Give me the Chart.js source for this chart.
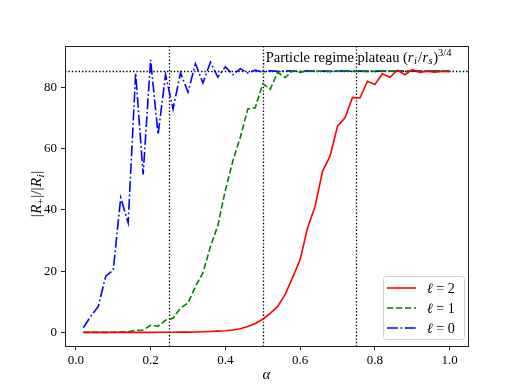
<!DOCTYPE html>
<html>
<head>
<meta charset="utf-8">
<script src="https://cdn.jsdelivr.net/npm/chart.js@4"></script>
<style>
html,body{margin:0;padding:0;background:#fff;}
#wrap{width:520px;height:390px;position:relative;}
</style>
</head>
<body>
<div id="wrap"><canvas id="c"></canvas></div>
<script>
// ---- data ----
const alpha = [0.02,0.04,0.06,0.08,0.10,0.12,0.14,0.16,0.18,0.20,
               0.22,0.24,0.26,0.28,0.30,0.32,0.34,0.36,0.38,0.40,
               0.42,0.44,0.46,0.48,0.50,0.52,0.54,0.56,0.58,0.60,
               0.62,0.64,0.66,0.68,0.70,0.72,0.74,0.76,0.78,0.80,
               0.82,0.84,0.86,0.88,0.90,0.92,0.94,0.96,0.98,1.00];
const ell2 = [0.0,0.0,0.0,0.0,0.0,0.0,0.0,0.0,0.0,0.0,
              0.05,0.05,0.05,0.1,0.1,0.15,0.2,0.3,0.4,0.55,
              0.8,1.2,1.9,2.9,4.3,6.2,8.5,12.4,18.0,23.8,
              34.2,41.2,52.7,57.6,67.4,70.1,76.8,76.6,82.1,81.0,
              84.5,83.4,85.7,84.2,85.9,85.0,85.4,85.0,85.4,85.2];
const ell1 = [0.0,0.0,0.0,0.0,0.05,0.1,0.2,0.7,0.8,2.3,
              2.0,4.0,4.6,8.0,9.6,15.0,19.5,28.0,35.0,46.5,
              56.0,63.8,73.0,73.4,81.3,79.5,85.0,83.3,85.5,85.0,
              85.6,85.2,85.5,85.3,85.4,85.5,85.3,85.4,85.4,85.3,
              85.4,85.4,85.5,85.4,85.4,85.3,85.4,85.4,85.4,85.4];
const ell0 = [1.5,5.3,8.5,18.4,20.3,44.0,35.8,84.8,51.6,89.1,
              64.7,84.2,73.0,84.8,78.5,87.8,81.5,88.3,83.4,86.8,
              84.2,86.2,84.8,85.7,85.1,85.5,85.3,85.5,85.4,85.3,
              85.5,85.4,85.4,85.3,85.5,85.4,85.4,85.4,85.3,85.4,
              85.4,85.4,85.4,85.4,85.4,85.4,85.4,85.4,85.4,85.4];
const seriesLabels = ['\u2113 = 2','\u2113 = 1','\u2113 = 0'];
const xTicks = [0.0,0.2,0.4,0.6,0.8,1.0];
const yTicks = [0,20,40,60,80];
const vLines = [0.25,0.5,0.75];
const plateau = 85.4;
const annotPos = [0.508, 88.5];

// ---- styles ----
const SERIF = "'Liberation Serif','DejaVu Serif',serif";
Chart.defaults.font.family = SERIF;
Chart.defaults.font.size = 13;
Chart.defaults.color = '#000';

const colors = ['#ff0000','#008000','#0000ff'];
const dashes = [[], [6.3,2.7], [10.8,2.7,1.7,2.7]];
const seriesData = [ell2, ell1, ell0];

const datasets = seriesData.map((arr,i)=>({
  label: seriesLabels[i],
  data: alpha.map((a,j)=>({x:a, y:arr[j]})),
  borderColor: colors[i],
  borderWidth: 1.6,
  borderDash: dashes[i],
  pointRadius: 0,
  tension: 0,
  fill: false
}));

function drawSegs(ctx, x, y, segs){
  let cx = x;
  for(const s of segs){
    ctx.font = s.f;
    ctx.fillText(s.t, cx, y + (s.dy||0));
    cx += ctx.measureText(s.t).width + (s.sp||0);
  }
  return cx - x;
}
function segsWidth(ctx, segs){
  let w=0;
  for(const s of segs){ ctx.font=s.f; w+=ctx.measureText(s.t).width+(s.sp||0);}
  return w;
}

const overlay = {
  id:'overlay',
  beforeDatasetsDraw(chart){
    const {ctx, chartArea:a, scales:{x,y}} = chart;
    ctx.save();
    ctx.beginPath(); ctx.rect(a.left,a.top,a.right-a.left,a.bottom-a.top); ctx.clip();
    ctx.strokeStyle='#000'; ctx.lineWidth=1.3; ctx.setLineDash([1.4,2.0]);
    for(const v of vLines){
      const px = Math.round(x.getPixelForValue(v))+0.5;
      ctx.beginPath(); ctx.moveTo(px,a.top); ctx.lineTo(px,a.bottom); ctx.stroke();
    }
    const py = Math.round(y.getPixelForValue(plateau))+0.5;
    ctx.beginPath(); ctx.moveTo(a.left,py); ctx.lineTo(a.right,py); ctx.stroke();
    ctx.restore();
  },
  afterDraw(chart){
    const {ctx, chartArea:a, scales:{x,y}} = chart;
    ctx.save();
    // frame
    ctx.strokeStyle='#222'; ctx.lineWidth=1; ctx.setLineDash([]);
    ctx.strokeRect(Math.round(a.left)+0.5, Math.round(a.top)+0.5, Math.round(a.right-a.left), Math.round(a.bottom-a.top));
    ctx.fillStyle='#000';
    ctx.textBaseline='alphabetic'; ctx.textAlign='left';
    // annotation
    const R='14.5px '+SERIF, I='italic 14.5px '+SERIF, Is='italic 10.5px '+SERIF, S='10.5px '+SERIF;
    drawSegs(ctx, x.getPixelForValue(annotPos[0]), y.getPixelForValue(annotPos[1]), [
      {t:'Particle regime plateau (', f:R},
      {t:'r', f:I, sp:0.5},{t:'i', f:Is, dy:2.5, sp:1},{t:'/', f:R, sp:0.5},
      {t:'r', f:I, sp:0.5},{t:'s', f:Is, dy:2.5, sp:0.5},{t:')', f:R},
      {t:'3/4', f:S, dy:-6}
    ]);
    // x label
    ctx.font='italic 15px '+SERIF; ctx.textAlign='center';
    ctx.fillText('\u03b1', (a.left+a.right)/2, 379);
    // y label rotated
    ctx.save();
    ctx.translate(41, (a.top+a.bottom)/2 - 2);
    ctx.rotate(-Math.PI/2);
    ctx.textAlign='left';
    const YR='15px '+SERIF, YI='italic 15px '+SERIF, YS='11px '+SERIF, YIS='italic 11px '+SERIF;
    const ys = [
      {t:'|', f:YR, sp:0.5},{t:'R', f:YI, sp:0.3},{t:'+', f:YS, dy:2.5, sp:0.5},{t:'|/|', f:YR, sp:0.5},
      {t:'R', f:YI, sp:0.3},{t:'i', f:YIS, dy:2.5, sp:0.8},{t:'|', f:YR}
    ];
    const w = segsWidth(ctx, ys);
    drawSegs(ctx, -w/2, 0, ys);
    ctx.restore();
    // legend
    const lx=383, ly=276, lw=81, lh=63;
    ctx.fillStyle='rgba(255,255,255,0.8)';
    ctx.strokeStyle='#d0d0d0'; ctx.lineWidth=1;
    ctx.beginPath();
    if(ctx.roundRect) ctx.roundRect(lx+0.5,ly+0.5,lw,lh,3); else ctx.rect(lx+0.5,ly+0.5,lw,lh);
    ctx.fill(); ctx.stroke();
    chart.data.datasets.forEach((ds,i)=>{
      const yy = ly+12+i*20;
      ctx.strokeStyle=ds.borderColor; ctx.lineWidth=ds.borderWidth;
      ctx.setLineDash(ds.borderDash);
      ctx.beginPath(); ctx.moveTo(lx+4,yy); ctx.lineTo(lx+33,yy); ctx.stroke();
      ctx.setLineDash([]);
      ctx.fillStyle='#000'; ctx.textAlign='left'; ctx.textBaseline='middle';
      const parts = ds.label.split(' = ');
      drawSegs(ctx, lx+44, yy+1, [
        {t:parts[0], f:'italic 14px '+SERIF},{t:' = ', f:'14px '+SERIF},{t:parts[1], f:'14px '+SERIF}
      ]);
    });
    ctx.restore();
  }
};

new Chart(document.getElementById('c'), {
  type:'line',
  data:{datasets},
  options:{
    responsive:true, maintainAspectRatio:false, animation:false,
    devicePixelRatio:1,
    layout:{padding:{left:0, top:46, right:52, bottom:0}},
    plugins:{legend:{display:false}, tooltip:{enabled:false}},
    scales:{
      x:{
        type:'linear', min:-0.029, max:1.049,
        afterBuildTicks(s){ s.ticks = xTicks.map(v=>({value:v})); },
        afterFit(s){ s.height = 44; },
        border:{display:false},
        grid:{drawOnChartArea:false, drawTicks:true, tickLength:4, tickColor:'#222', tickWidth:1},
        ticks:{padding:3, maxRotation:0, autoSkip:false, font:{size:13}, color:'#000',
               callback:v=>Number(v).toFixed(1)}
      },
      y:{
        type:'linear', min:-4.45, max:93.6,
        afterBuildTicks(s){ s.ticks = yTicks.map(v=>({value:v})); },
        afterFit(s){ s.width = 65; },
        border:{display:false},
        grid:{drawOnChartArea:false, drawTicks:true, tickLength:4, tickColor:'#222', tickWidth:1},
        ticks:{padding:4, autoSkip:false, font:{size:13}, color:'#000',
               callback:v=>String(v)}
      }
    }
  },
  plugins:[overlay]
});
</script>
</body>
</html>
